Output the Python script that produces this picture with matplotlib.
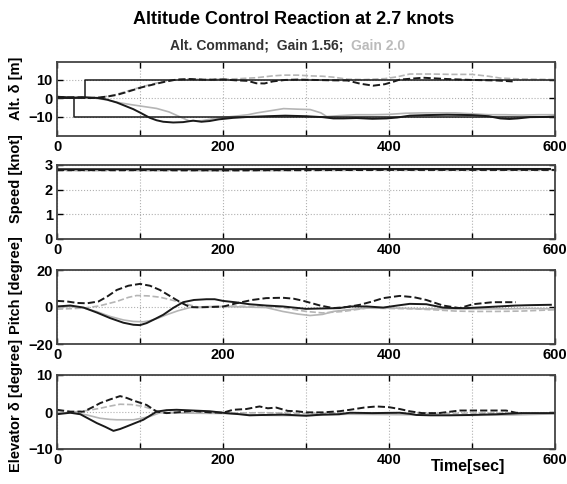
import matplotlib
matplotlib.use('Agg')
import matplotlib.pyplot as plt

plt.rcParams['font.family'] = ['Liberation Sans', 'DejaVu Sans']
plt.rcParams['font.weight'] = 'bold'

# ---- Altitude [m] ----
cmd_up_t = [0, 34, 34, 600]
cmd_up = [0, 0, 10, 10]
cmd_dn_t = [0, 20, 20, 600]
cmd_dn = [0, 0, -10, -10]

alt_up_156_t = [0, 10, 20, 30, 40, 50, 60, 72, 82, 92, 102, 112, 122, 132, 144, 160, 180, 200, 215, 230, 240,
                250, 260, 275, 290, 310, 330, 350, 365, 381, 395, 405, 413, 441, 470, 500, 530, 549]
alt_up_156 = [0.7, 0.3, 0.5, 0.2, 0.0, 0.3, 0.8, 1.7, 3.0, 4.4, 5.8, 6.9, 8.0, 9.0, 10.0, 10.3, 9.9, 10.1, 9.6,
              9.3, 8.0, 7.9, 9.0, 9.8, 10.0, 9.8, 9.6, 9.5, 7.8, 6.7, 7.5, 8.8, 10.0, 11.0, 10.3, 9.8, 9.5, 9.0]
alt_up_20_t = [0, 20, 40, 55, 70, 85, 100, 115, 130, 145, 160, 180, 200, 220, 240, 260, 273, 290, 305, 320, 333,
               350, 370, 395, 410, 425, 450, 475, 500, 520, 534, 560, 600]
alt_up_20 = [0, 0.2, 0, 0.5, 1.8, 3.8, 5.8, 7.6, 9.2, 10.0, 10.3, 10.0, 10.2, 10.5, 11.0, 12.0, 12.4, 12.4, 12.0,
             11.8, 11.3, 10.2, 10.0, 10.5, 11.5, 13.0, 13.0, 12.8, 12.8, 11.8, 10.8, 10.3, 10.0]
alt_dn_156_t = [0, 10, 20, 30, 40, 50, 60, 72, 82, 92, 102, 112, 120, 128, 140, 152, 164, 174, 184, 195, 212, 230,
                253, 275, 300, 320, 333, 345, 361, 380, 397, 410, 425, 445, 470, 500, 520, 534, 545, 555, 570, 590, 600]
alt_dn_156 = [0.7, 0.5, 0.2, 0.5, 0.3, 0.0, -0.8, -2.4, -4.2, -6.0, -8.3, -10.7, -12.0, -12.8, -13.2, -13.0, -12.2,
              -12.8, -12.4, -11.5, -10.7, -10.2, -9.8, -9.5, -9.8, -10.3, -11.0, -11.0, -10.8, -11.2, -11.0, -10.5,
              -9.5, -9.2, -9.0, -9.2, -9.8, -11.0, -11.3, -11.0, -10.3, -10.2, -10.0]
alt_dn_20_t = [0, 15, 30, 45, 60, 75, 90, 105, 120, 135, 150, 160, 175, 190, 210, 230, 241, 255, 273, 290, 305, 318,
               325, 340, 360, 380, 400, 420, 440, 460, 480, 500, 520, 540, 560, 580, 600]
alt_dn_20 = [0.5, 0, 0.3, 0.0, -1.0, -2.5, -3.6, -4.6, -5.6, -7.5, -10.5, -12.5, -12.2, -11.0, -10.0, -9.0, -8.0,
             -7.0, -5.7, -6.0, -6.2, -8.0, -10.0, -9.5, -9.0, -9.0, -8.8, -8.2, -8.0, -8.0, -8.0, -8.5, -9.0, -9.0,
             -9.2, -9.0, -9.0]

# ---- Speed [knot] ----
spd_t = [0, 100, 200, 300, 400, 500, 600]
spd_dn_156_t = [0, 100, 200, 300, 400, 500, 594]
spd_dn_156 = [2.83, 2.83, 2.83, 2.84, 2.84, 2.84, 2.84]
spd_up_156 = [2.79, 2.79, 2.78, 2.79, 2.80, 2.80, 2.80]
spd_dn_20 = [2.80, 2.80, 2.80, 2.81, 2.81, 2.81, 2.81]
spd_up_20 = [2.77, 2.77, 2.77, 2.78, 2.78, 2.78, 2.78]

# ---- Pitch [degree] ----
pit_up_156_t = [0, 12, 24, 36, 50, 60, 72, 86, 100, 112, 124, 134, 144, 152, 160, 170, 185, 200, 216, 235, 252, 272,
                285, 297, 317, 333, 350, 365, 380, 393, 413, 430, 445, 465, 485, 501, 525, 553]
pit_up_156 = [3.3, 3.0, 2.2, 2.0, 3.0, 5.5, 9.2, 11.5, 12.5, 11.5, 9.2, 6.5, 3.8, 1.8, 0.0, -0.2, 0.0, 0.2, 2.0, 3.8,
              4.8, 5.0, 4.5, 3.3, 0.8, -0.6, 0.0, 1.2, 3.0, 4.8, 6.0, 5.3, 3.8, 0.8, -0.6, 1.5, 2.6, 2.6]
pit_dn_156_t = [0, 16, 32, 48, 64, 80, 92, 100, 108, 118, 128, 140, 152, 165, 180, 190, 200, 216, 232, 252, 272, 300,
                320, 340, 353, 373, 393, 410, 425, 445, 465, 480, 493, 520, 553, 570, 595]
pit_dn_156 = [0.3, 0.8, -0.3, -3.0, -6.0, -8.5, -9.6, -9.8, -8.7, -6.5, -4.2, -0.5, 2.6, 3.8, 4.2, 4.2, 3.3, 2.5, 1.5,
              0.8, 0.3, -1.0, -0.8, -0.6, 0.3, 0.3, -0.3, 0.8, 1.7, 1.5, -0.3, -0.6, -0.6, 0.0, 0.8, 1.0, 1.2]
pit_up_20_t = [0, 32, 50, 72, 86, 96, 110, 124, 138, 152, 172, 190, 212, 240, 272, 300, 320, 345, 373, 400, 430, 453,
               480, 500, 530, 560, 600]
pit_up_20 = [-1.2, -0.6, 0.5, 3.0, 5.2, 6.2, 6.0, 5.3, 3.8, 2.0, -0.3, 0.3, 0.5, 0.2, -0.3, -2.4, -3.2, -2.4, -0.6,
             -0.8, -1.0, -1.5, -2.2, -2.4, -2.4, -2.2, -1.5]
pit_dn_20_t = [0, 16, 32, 48, 64, 80, 92, 104, 112, 122, 132, 146, 160, 180, 198, 225, 252, 272, 290, 305, 320, 333,
               350, 373, 393, 413, 440, 470, 500, 540, 570, 600]
pit_dn_20 = [-0.3, 0.3, -0.5, -2.5, -5.1, -7.0, -7.8, -8.0, -7.4, -6.0, -4.2, -2.0, -0.3, 0.2, 0.3, 0.0, -0.3, -2.4,
             -3.8, -4.6, -4.0, -2.4, -1.5, -0.6, -0.6, -0.6, -1.0, -1.0, -1.0, -1.0, -0.8, -1.0]

# ---- Elevator [degree] ----
elv_up_156_t = [0, 16, 32, 42, 52, 64, 76, 84, 92, 100, 108, 120, 132, 144, 164, 184, 200, 212, 228, 244, 254, 264,
                278, 289, 300, 320, 340, 353, 370, 385, 400, 413, 425, 440, 460, 485, 500, 520, 541, 553, 560]
elv_up_156 = [0.6, 0.1, 0.1, 1.2, 2.4, 3.4, 4.3, 3.8, 3.1, 2.5, 1.9, 0.1, -0.3, -0.1, 0.3, -0.1, -0.2, 0.6, 0.8, 1.5,
              1.0, 1.2, 0.3, 0.2, -0.1, -0.1, 0.2, 0.6, 1.2, 1.5, 1.3, 0.8, 0.2, -0.3, -0.3, 0.4, 0.4, 0.4, 0.4,
              -0.2, -0.3]
elv_dn_156_t = [0, 16, 28, 38, 48, 58, 68, 76, 84, 94, 104, 112, 120, 132, 144, 164, 184, 204, 220, 232, 250, 272,
                300, 320, 340, 353, 380, 413, 425, 433, 450, 473, 500, 513, 530, 560, 590, 600]
elv_dn_156 = [-0.6, -0.2, -0.6, -1.8, -3.0, -4.0, -5.1, -4.6, -3.9, -3.0, -2.1, -1.0, 0.1, 0.5, 0.6, 0.4, 0.2, -0.3,
              -0.6, -0.9, -0.8, -0.7, -1.0, -0.7, -0.6, -0.2, -0.3, -0.2, -0.5, -0.8, -0.9, -0.9, -0.8, -0.7, -0.6,
              -0.3, -0.3, -0.3]
elv_up_20_t = [0, 20, 36, 52, 64, 76, 90, 104, 114, 124, 150, 200, 250, 300, 350, 400, 450, 500, 550, 600]
elv_up_20 = [-0.3, 0.0, 0.4, 1.0, 1.6, 2.1, 2.0, 1.5, 0.8, 0.0, -0.2, -0.3, -0.2, -0.4, -0.3, -0.2, -0.4, -0.3,
             -0.3, -0.3]
elv_dn_20_t = [0, 20, 36, 52, 64, 72, 92, 104, 112, 124, 150, 200, 250, 300, 350, 400, 450, 500, 550, 600]
elv_dn_20 = [-0.3, -0.2, -0.8, -1.7, -2.0, -2.1, -2.1, -1.6, -1.2, -0.2, -0.3, -0.4, -0.9, -1.0, -0.6, -0.7, -0.8,
             -0.9, -0.8, -0.5]

x_ticks = [0, 100, 200, 300, 400, 500, 600]
x_labels = ['0', '', '200', '', '400', '', '600']

black = '#1a1a1a'
gray = '#b5b5b5'

fig = plt.figure(figsize=(5.67, 4.84), dpi=100)

# panel boxes in pixels (top, bottom)
left, right = 57, 555
panels = [(62, 136), (165, 239), (270, 344), (375, 449)]
axes = []
for top, bottom in panels:
    ax = fig.add_axes([left / 567, 1 - bottom / 484, (right - left) / 567, (bottom - top) / 484])
    axes.append(ax)

ax1, ax2, ax3, ax4 = axes

# altitude
ax1.plot(alt_up_20_t, alt_up_20, color=gray, linestyle='--', lw=1.2)
ax1.plot(alt_dn_20_t, alt_dn_20, color=gray, linestyle='-', lw=1.2)
ax1.plot(cmd_up_t, cmd_up, color=black, lw=1.1)
ax1.plot(cmd_dn_t, cmd_dn, color=black, lw=1.1)
ax1.plot(alt_up_156_t, alt_up_156, color=black, linestyle='--', lw=1.4)
ax1.plot(alt_dn_156_t, alt_dn_156, color=black, linestyle='-', lw=1.4)
ax1.set_ylim(-20.5, 19.5)
ax1.set_yticks([-10, 0, 10])

# speed
ax2.plot(spd_t, spd_up_20, color=gray, linestyle='--', lw=1.2)
ax2.plot(spd_t, spd_dn_20, color=gray, linestyle='-', lw=1.2)
ax2.plot(spd_t, spd_up_156, color=black, linestyle='--', lw=1.4)
ax2.plot(spd_dn_156_t, spd_dn_156, color=black, linestyle='-', lw=1.4)
ax2.set_ylim(0, 3)
ax2.set_yticks([0, 1, 2, 3])

# pitch
ax3.plot(pit_up_20_t, pit_up_20, color=gray, linestyle='--', lw=1.2)
ax3.plot(pit_dn_20_t, pit_dn_20, color=gray, linestyle='-', lw=1.2)
ax3.plot(pit_up_156_t, pit_up_156, color=black, linestyle='--', lw=1.4)
ax3.plot(pit_dn_156_t, pit_dn_156, color=black, linestyle='-', lw=1.4)
ax3.set_ylim(-20, 20)
ax3.set_yticks([-20, 0, 20])

# elevator
ax4.plot(elv_up_20_t, elv_up_20, color=gray, linestyle='--', lw=1.2)
ax4.plot(elv_dn_20_t, elv_dn_20, color=gray, linestyle='-', lw=1.2)
ax4.plot(elv_up_156_t, elv_up_156, color=black, linestyle='--', lw=1.4)
ax4.plot(elv_dn_156_t, elv_dn_156, color=black, linestyle='-', lw=1.4)
ax4.set_ylim(-10, 10)
ax4.set_yticks([-10, 0, 10])

for ax in axes:
    ax.set_xlim(0, 600)
    ax.set_xticks(x_ticks)
    ax.set_xticklabels(x_labels)
    ax.grid(True, linestyle=':', color='#b0b0b0', lw=0.8)
    ax.tick_params(direction='in', top=True, right=True, length=4, width=1, labelsize=10.5, pad=3)
    for s in ax.spines.values():
        s.set_linewidth(1.3)
        s.set_color('#444444')
    for lab in ax.get_xticklabels() + ax.get_yticklabels():
        lab.set_fontweight('bold')

# y labels placed by hand (they sit a bit off-centre in the original)
ylabels = [('Alt. \u03b4 [m]', 88), ('Speed [knot]', 179), ('Pitch [degree]', 285), ('Elevator \u03b4 [degree]', 405)]
for txt, ypix in ylabels:
    fig.text(16 / 567, 1 - ypix / 484, txt, rotation=90, ha='center', va='center', fontsize=10.5, fontweight='bold')

fig.text(294 / 567, 1 - 20 / 484, 'Altitude Control Reaction at 2.7 knots', ha='center', va='center',
         fontsize=13, fontweight='bold')
fig.text(347 / 567, 1 - 46 / 484, 'Alt. Command;  Gain 1.56; ', ha='right', va='center', fontsize=10,
         fontweight='bold', color='#333333')
fig.text(351 / 567, 1 - 46 / 484, 'Gain 2.0', ha='left', va='center', fontsize=10, fontweight='bold',
         color='#bbbbbb')
fig.text(468 / 567, 1 - 467 / 484, 'Time[sec]', ha='center', va='center', fontsize=11.5, fontweight='bold')

fig.savefig('out.png', dpi=100)
